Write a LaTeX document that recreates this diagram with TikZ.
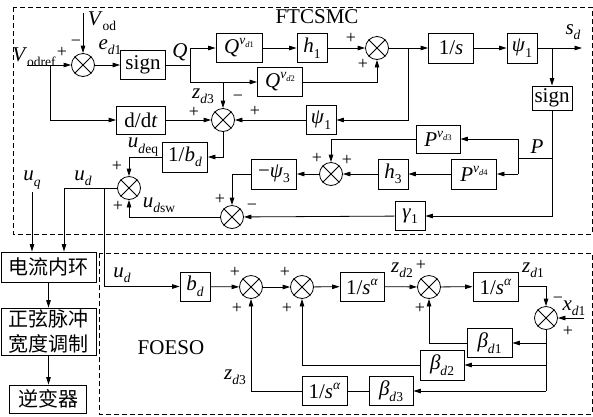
\documentclass[tikz,border=0pt]{standalone}
\usepackage{fontspec}
\setmainfont{Liberation Serif}
\newfontfamily\cjk{Noto Sans CJK SC}
\usetikzlibrary{arrows.meta,calc}
\newcommand\sbx[1]{\raisebox{-0.26em}{\fontsize{13.5}{13.5}\selectfont #1}}
\newcommand\spx[1]{\raisebox{0.42em}{\fontsize{13.5}{13.5}\selectfont #1}}
\newcommand\tsb[1]{\raisebox{-0.2em}{\fontsize{8.5}{8.5}\selectfont #1}}
\begin{document}
\begin{tikzpicture}[x=1pt,y=-1pt,
  every node/.style={font=\fontsize{21}{23}\selectfont, inner sep=0pt},
  bx/.style 2 args={draw, line width=0.8pt, minimum width=#1, minimum height=#2},
  sj/.style={draw, circle, minimum size=23pt, line width=0.8pt},
  sg/.style={font=\fontsize{18}{18}\selectfont},
  dbox/.style={draw, line width=0.8pt, dash pattern=on 5pt off 3pt},
  >={Triangle[length=7.5pt,width=4.5pt]},
  line width=0.8pt]
\fill[white] (0,0) rectangle (593,416);
\useasboundingbox (0,0) rectangle (593,416);
% dashed frames
\draw[dbox] (13,7) rectangle (592,234);
\draw[dbox] (99,253) rectangle (592,414);
% blocks
\node[bx={45pt}{29pt}] (sign1) at (143,65) {sign};
\node[bx={46pt}{29pt}] (Qv1) at (239,48) {\textit{Q}\spx{\textit{v}\tsb{\textit{d}1}}};
\node[bx={30pt}{29pt}] (h1) at (312,48) {\textit{h}\sbx{1}};
\node[bx={45pt}{29pt}] (Qv2) at (280,82) {\textit{Q}\spx{\textit{v}\tsb{\textit{d}2}}};
\node[bx={49pt}{28pt}] (dd) at (141,120) {d/d\textit{t}};
\node[bx={30pt}{29pt}] (psi1m) at (321,120) {\textit{ψ}\sbx{1}};
\node[bx={45pt}{30pt}] (ib) at (185,157) {1/\textit{b}\sbx{\textit{d}}};
\node[bx={45pt}{30pt}] (ons) at (451,48) {1/\textit{s}};
\node[bx={30pt}{30pt}] (psi1t) at (522,48) {\textit{ψ}\sbx{1}};
\node[bx={40pt}{24pt}] (sign2) at (552,98) {sign};
\node[bx={44pt}{28pt}] (Pv3) at (438,139) {\textit{P}\spx{\textit{v}\tsb{\textit{d}3}}};
\node[bx={45pt}{30pt}] (Pv4) at (474,174) {\textit{P}\spx{\textit{v}\tsb{\textit{d}4}}};
\node[bx={30pt}{30pt}] (h3) at (393,174) {\textit{h}\sbx{3}};
\node[bx={45pt}{30pt}] (mpsi3) at (274,174) {−\textit{ψ}\sbx{3}};
\node[bx={30pt}{29pt}] (g1) at (410,216) {\textit{γ}\sbx{1}};
\node[bx={95pt}{30pt}, font=\cjk\fontsize{20}{25}\selectfont] (hl) at (48.5,267) {电流内环};
\node[bx={95pt}{47pt}, align=center, font=\cjk\fontsize{20}{25}\selectfont] (pwm) at (48.5,331.5) {正弦脉冲\\宽度调制};
\node[bx={77pt}{28pt}, font=\cjk\fontsize{20}{25}\selectfont] (inv) at (48,399) {逆变器};
\node[bx={30pt}{29pt}] (bd) at (195,286.5) {\textit{b}\sbx{\textit{d}}};
\node[bx={44pt}{29pt}] (s1) at (362,286.5) {1/\textit{s}\spx{\textit{α}}};
\node[bx={45pt}{29pt}] (s2) at (495.5,286.5) {1/\textit{s}\spx{\textit{α}}};
\node[bx={45pt}{29pt}] (s3) at (324.5,391) {1/\textit{s}\spx{\textit{α}}};
\node[bx={45pt}{29pt}] (bd1) at (489.5,343) {\textit{β}\sbx{\textit{d}1}};
\node[bx={44pt}{30pt}] (bd2) at (442,365) {\textit{β}\sbx{\textit{d}2}};
\node[bx={44pt}{29pt}] (bd3) at (391,391) {\textit{β}\sbx{\textit{d}3}};
% summing junctions
\node[sj] (j1) at (83,65) {};
\node[sj] (j2) at (377,48) {};
\node[sj] (j3) at (223,120) {};
\node[sj] (j4) at (331,174) {};
\node[sj] (j5) at (232,217) {};
\node[sj] (j6) at (129,188) {};
\node[sj] (j7) at (251,287) {};
\node[sj] (j8) at (302,287) {};
\node[sj] (j9) at (429,287) {};
\node[sj] (j10) at (546,318) {};
\foreach \j in {j1,j2,j3,j4,j5,j6,j7,j8,j9,j10}
  \draw (\j.north east) -- (\j.south west) (\j.north west) -- (\j.south east);
% coordinates
\coordinate (vin) at (27,65);
\coordinate (vod) at (83,13);
\coordinate (vbr) at (50,65);
\coordinate (qb) at (190,65);
\coordinate (fb1) at (408,48);
\coordinate (sdout) at (582,48);
\coordinate (pj) at (518,158);
\coordinate (udx) at (64,188);
\coordinate (uq) at (32,192);
\coordinate (ubr) at (104,188);
\coordinate (xin) at (584,318);
% FTCSMC connectors
\draw[->] (vin) -- (j1);
\draw[->] (vod) -- (j1);
\draw[->] (j1) -- (sign1);
\draw (sign1) -- (qb);
\draw (qb |- Qv1) -- (qb |- Qv2);
\draw[->] (qb |- Qv1) -- (Qv1);
\draw[->] (qb |- Qv2) -- (Qv2);
\draw[->] (Qv1) -- (h1);
\draw[->] (h1) -- (j2);
\draw[->] (Qv2) -| (j2);
\draw[->] (j3 |- Qv2) -- (j3);
\draw[->] (j2) -- (ons);
\draw[->] (fb1) |- (psi1m);
\draw[->] (psi1m) -- (j3);
\draw[->] (vbr) |- (dd);
\draw[->] (dd) -- (j3);
\draw[->] (j3) |- (ib);
\draw[->] (ib) -| (j6);
\draw[->] (ons) -- (psi1t);
\draw[->] (psi1t) -- (sdout);
\draw[->] (sign2 |- psi1t) -- (sign2);
\draw[->] (sign2) |- (g1);
\draw (sign2 |- pj) -- (pj);
\draw (pj |- Pv3) -- (pj |- Pv4);
\draw[->] (pj |- Pv3) -- (Pv3);
\draw[->] (pj |- Pv4) -- (Pv4);
\draw[->] (Pv3) -| (j4);
\draw[->] (Pv4) -- (h3);
\draw[->] (h3) -- (j4);
\draw[->] (j4) -- (mpsi3);
\draw[->] (mpsi3) -| (j5);
\draw[->] (g1) -- (j5);
\draw[->] (j5) -| (j6);
\draw[->] (j6) -- (udx) -- (udx |- hl.north);
\draw[->] (uq) -- (uq |- hl.north);
\draw[->] (ubr) |- (bd);
\draw[->] (hl) -- (pwm);
\draw[->] (pwm.south) -- (pwm.south |- inv.north);
% FOESO connectors
\draw[->] (bd) -- (j7);
\draw[->] (j7) -- (j8);
\draw[->] (j8) -- (s1);
\draw[->] (s1) -- (j9);
\draw[->] (j9) -- (s2);
\draw[->] (s2) -| (j10);
\draw[->] (xin) -- (j10);
\draw (j10) -- (j10 |- bd3);
\draw[->] (j10 |- bd1) -- (bd1);
\draw[->] (j10 |- bd2) -- (bd2);
\draw[->] (j10 |- bd3) -- (bd3);
\draw[->] (bd1) -| (j9);
\draw[->] (bd2) -| (j8);
\draw (bd3) -- (s3);
\draw[->] (s3) -| (j7);
% labels
\node (tFT) at (317,17) {FTCSMC};
\node (tFO) at (171,348) {FOESO};
\node (lVod) at (102,21) {\textit{V}\sbx{od}};
\node (led1) at (110,47) {\textit{e}\sbx{\textit{d}1}};
\node (lVref) at (34,57) {\textit{V}\sbx{odref}};
\node[sg] (p1) at (62,52) {+};
\node[sg] (m1) at (76,43) {−};
\node (lQ) at (180,52) {\textit{Q}};
\node[sg] (p2) at (351,38) {+};
\node[sg] (p3) at (363,64) {+};
\node (lzd3) at (203,96) {\textit{z}\sbx{\textit{d}3}};
\node[sg] (m3) at (238,98) {−};
\node[sg] (p4) at (194,112) {+};
\node[sg] (p5) at (255,111) {+};
\node (lsd) at (573,32) {\textit{s}\sbx{\textit{d}}};
\node (lP) at (537,147) {\textit{P}};
\node[sg] (p6) at (317,158) {+};
\node[sg] (p7) at (347,160) {+};
\node[sg] (p8) at (220,199) {+};
\node[sg] (m5) at (252,207) {−};
\node (ludeq) at (143,147) {\textit{u}\sbx{\textit{d}eq}};
\node[sg] (p9) at (117,166) {+};
\node (ludsw) at (159,205) {\textit{u}\sbx{\textit{d}sw}};
\node[sg] (p10) at (118,206) {+};
\node (luq) at (32,180) {\textit{u}\sbx{\textit{q}}};
\node (lud) at (83,178) {\textit{u}\sbx{\textit{d}}};
\node (lud2) at (122,275) {\textit{u}\sbx{\textit{d}}};
\node[sg] (p11) at (235,272) {+};
\node[sg] (p12) at (237,308) {+};
\node[sg] (p13) at (285,272) {+};
\node[sg] (p14) at (287,308) {+};
\node (lzd2) at (402,270) {\textit{z}\sbx{\textit{d}2}};
\node[sg] (p15) at (421,265) {+};
\node[sg] (p16) at (420,308) {+};
\node (lzd1) at (533,270) {\textit{z}\sbx{\textit{d}1}};
\node[sg] (m6) at (558,300) {−};
\node (lxd1) at (574,308) {\textit{x}\sbx{\textit{d}1}};
\node[sg] (p17) at (568,331) {+};
\node (lzd3b) at (235,377) {\textit{z}\sbx{\textit{d}3}};
\end{tikzpicture}
\end{document}
